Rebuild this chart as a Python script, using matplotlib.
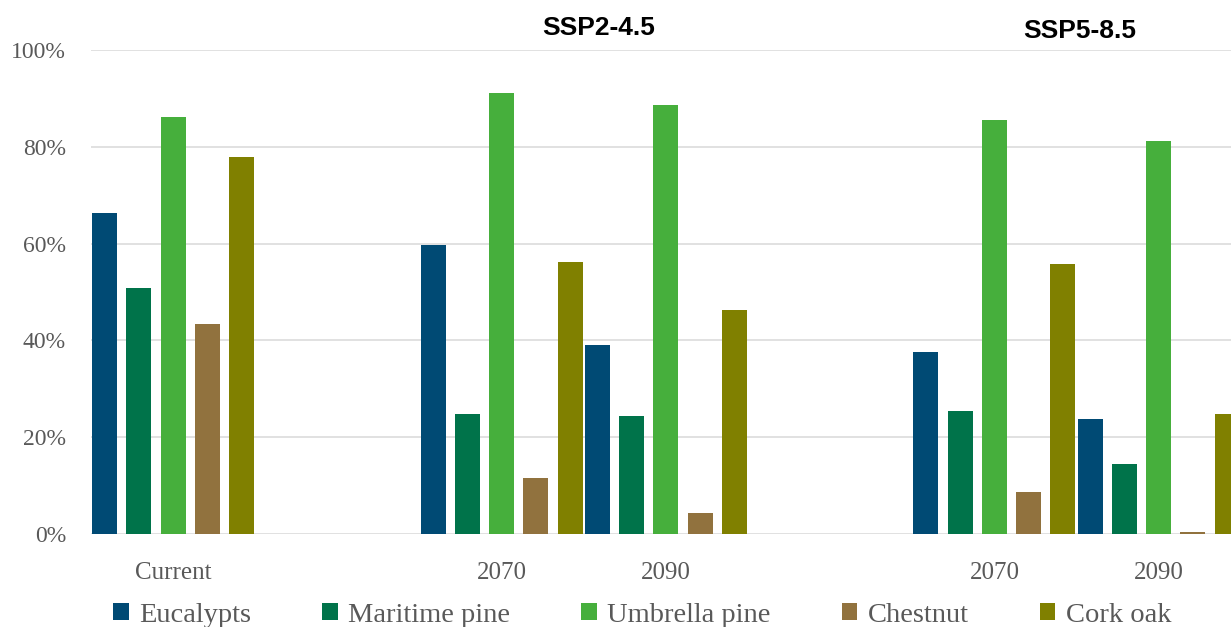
import numpy as np
import matplotlib
matplotlib.use("Agg")
import matplotlib.pyplot as plt

# categories along the x axis (blank slots separate the scenarios)
categories = ["Current", "", "2070", "2090", "", "2070", "2090"]
nan = np.nan

eucalypts = [66.3, nan, 59.8, 39.1, nan, 37.7, 23.7]
maritime_pine = [50.8, nan, 24.7, 24.4, nan, 25.5, 14.4]
umbrella_pine = [86.2, nan, 91.2, 88.6, nan, 85.5, 81.2]
chestnut = [43.4, nan, 11.6, 4.3, nan, 8.7, 0.4]
cork_oak = [77.9, nan, 56.3, 46.3, nan, 55.7, 24.8]

series_names = ["Eucalypts", "Maritime pine", "Umbrella pine", "Chestnut", "Cork oak"]
series = [eucalypts, maritime_pine, umbrella_pine, chestnut, cork_oak]
colors = ["#004a74", "#00734a", "#46af3c", "#91723e", "#808000"]

scenarios = ["SSP2-4.5", "SSP5-8.5"]

fig = plt.figure(figsize=(12.31, 6.27), dpi=100)
ax = fig.add_axes([91 / 1231, 93 / 627, 1 - 91 / 1231, (534 - 50) / 627])

x = np.arange(len(categories))
pitch = 0.2085
width = 0.152
for i, (name, vals, c) in enumerate(zip(series_names, series, colors)):
    ax.bar(x + (i - 2) * pitch, np.array(vals) / 100, width, color=c, label=name, zorder=3)

ax.set_xlim(-0.5, 6.44)
ax.set_ylim(0, 1)
ax.set_yticks(np.arange(0, 1.01, 0.2))
ax.set_yticklabels([f"{int(round(v * 100))}%" for v in np.arange(0, 1.01, 0.2)])
ax.set_xticks(x)
ax.set_xticklabels(categories)

serif = "Liberation Serif"
for lab in ax.get_yticklabels():
    lab.set_fontfamily(serif)
    lab.set_fontsize(17)
    lab.set_color("#595959")
for lab in ax.get_xticklabels():
    lab.set_fontfamily(serif)
    lab.set_fontsize(18)
    lab.set_color("#595959")
ax.tick_params(axis="y", length=0, pad=18)
ax.tick_params(axis="x", length=0, pad=20)

ax.grid(axis="y", color="#d9d9d9", linewidth=1.1, zorder=0)
for s in ax.spines.values():
    s.set_visible(False)
ax.set_axisbelow(True)

fig.text(599 / 1231, 1 - 28 / 627, scenarios[0], ha="center", va="center",
         fontfamily="Liberation Sans", fontweight="bold", fontsize=19)
fig.text(1080 / 1231, 1 - 31 / 627, scenarios[1], ha="center", va="center",
         fontfamily="Liberation Sans", fontweight="bold", fontsize=19)

leg = fig.legend(loc="center", bbox_to_anchor=(642 / 1231, 12 / 627), ncol=5,
                 frameon=False, prop={"family": serif, "size": 20.5},
                 handlelength=0.55, handleheight=0.55, handletextpad=0.36,
                 columnspacing=2.5, borderpad=0, borderaxespad=0)
for t in leg.get_texts():
    t.set_color("#595959")

fig.savefig("out.png", dpi=100)
